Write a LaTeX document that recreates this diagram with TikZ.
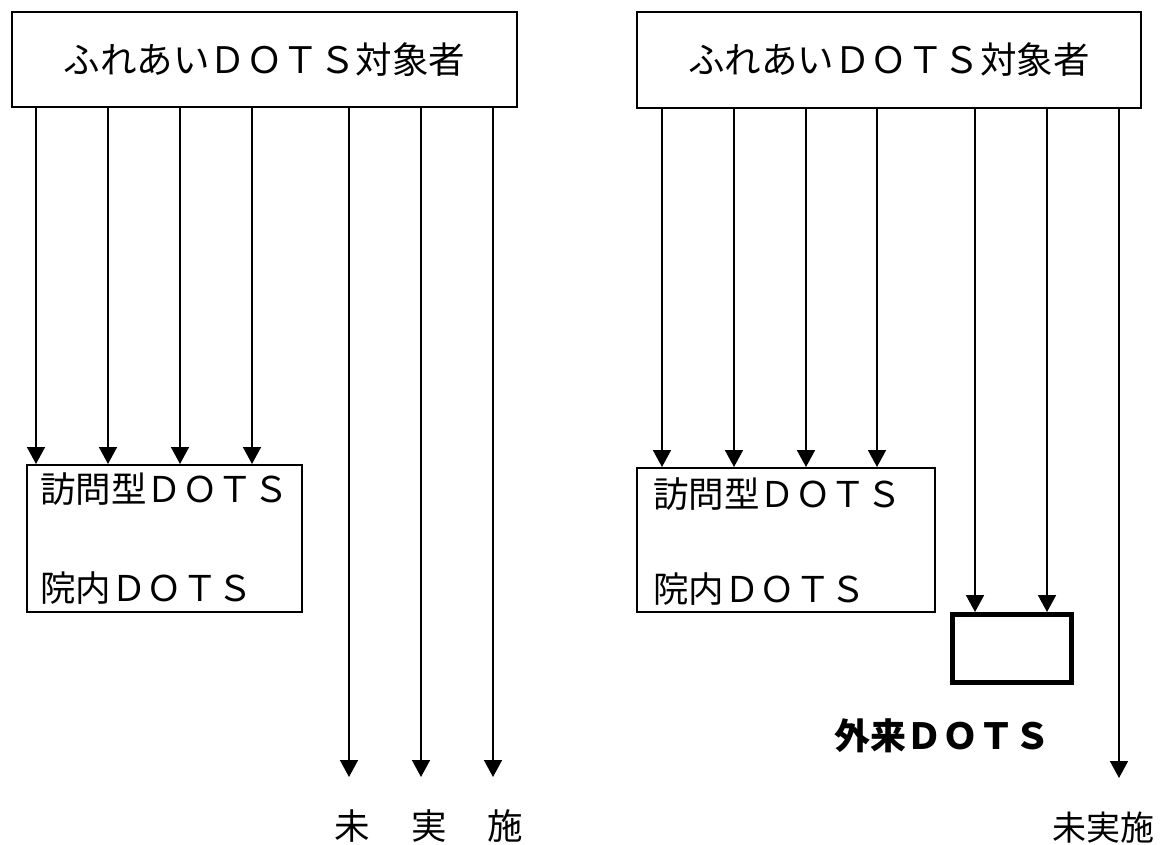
\documentclass[tikz,border=0pt]{standalone}
\usepackage{fontspec}
\newfontfamily\jp{Noto Sans CJK JP}
\usetikzlibrary{arrows.meta}
\begin{document}
\begin{tikzpicture}[x=1pt,y=-1pt,
  box/.style={draw,line width=2pt,inner sep=0pt},
  thickbox/.style={draw,line width=5pt,inner sep=0pt},
  big/.style={font=\jp\fontsize{36.5}{36.5}\selectfont,inner sep=0pt},
  lbl/.style={font=\jp\fontsize{35.5}{35.5}\selectfont,inner sep=0pt},
  boldlbl/.style={font=\jp\bfseries\fontsize{36}{36}\selectfont,inner sep=0pt},
  arr/.style={line width=1.8pt,-{Triangle[width=18pt,length=17pt]}}]
\useasboundingbox (0,0) rectangle (1162,845);

% left panel
\node[box,big,minimum width=505pt,minimum height=95pt] (topL) at (264.5,59.5) {ふれあいＤＯＴＳ対象者};
\node[box,minimum width=275pt,minimum height=147pt] (visL) at (164.5,538.5) {};
\node[lbl,anchor=west] (visLa) at (40,489) {訪問型ＤＯＴＳ};
\node[lbl,anchor=west] (visLb) at (40,588) {院内ＤＯＴＳ};
\coordinate (endL) at (0,777);
\node[lbl] (noneL) at (429,826) {未\hspace{41pt}実\hspace{41pt}施};

\foreach \x in {36,108,180,252}
  \draw[arr] (\x,0 |- topL.south) -- (\x,0 |- visL.north);
\foreach \x in {349,421,493}
  \draw[arr] (\x,0 |- topL.south) -- (\x,0 |- endL);

% right panel
\node[box,big,minimum width=504pt,minimum height=96pt] (topR) at (889,60) {ふれあいＤＯＴＳ対象者};
\node[box,minimum width=298pt,minimum height=144pt] (visR) at (786,540) {};
\node[lbl,anchor=west] (visRa) at (653,494) {訪問型ＤＯＴＳ};
\node[lbl,anchor=west] (visRb) at (653,589) {院内ＤＯＴＳ};
\node[thickbox,minimum width=119pt,minimum height=68pt] (outR) at (1012,648.5) {};
\node[boldlbl] (outRl) at (942,736) {外来ＤＯＴＳ};
\coordinate (endR) at (0,778);
\node[font=\jp\fontsize{34}{34}\selectfont,inner sep=0pt] (noneR) at (1103,828) {未実施};

\foreach \x in {662,734,806,877}
  \draw[arr] (\x,0 |- topR.south) -- (\x,0 |- visR.north);
\foreach \x in {975,1047}
  \draw[arr] (\x,0 |- topR.south) -- (\x,0 |- outR.north);
\draw[arr] (1119,0 |- topR.south) -- (1119,0 |- endR);
\end{tikzpicture}
\end{document}
